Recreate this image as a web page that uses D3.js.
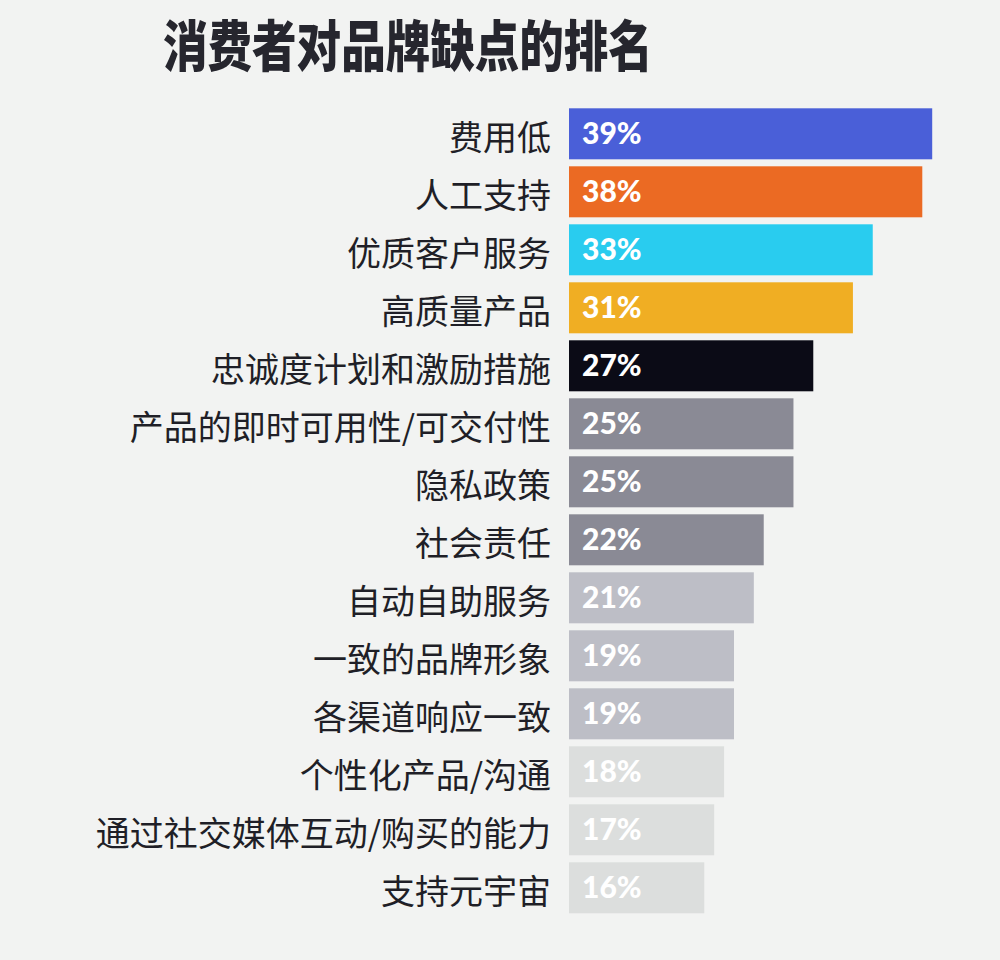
<!DOCTYPE html>
<html><head><meta charset="utf-8">
<script src="https://cdn.jsdelivr.net/npm/d3@7"></script>
<style>
html,body{margin:0;padding:0;background:#f2f3f2;}
svg{display:block;}
</style></head>
<body>
<div id="chart"></div>
<script>
const title = "消费者对品牌缺点的排名";
const categories = ["费用低","人工支持","优质客户服务","高质量产品","忠诚度计划和激励措施","产品的即时可用性/可交付性","隐私政策","社会责任","自动自助服务","一致的品牌形象","各渠道响应一致","个性化产品/沟通","通过社交媒体互动/购买的能力","支持元宇宙"];
const values = [39,38,33,31,27,25,25,22,21,19,19,18,17,16];
const barColors = ["#4a5fd8","#eb6a23","#29ccef","#f0ae23","#0b0b16","#8a8a95","#8a8a95","#8a8a95","#bdbec6","#bdbec6","#bdbec6","#dcdedd","#dcdedd","#dcdedd"];

const W = 1000, H = 960;
const svg = d3.select("#chart").append("svg").attr("width", W).attr("height", H);
svg.append("rect").attr("width", W).attr("height", H).attr("fill", "#f2f3f2");

const x0 = 569;
const x = d3.scaleLinear().domain([2.35, 40]).range([x0, x0 + 9.91 * (40 - 2.35)]);
const y = d3.scaleBand().domain(categories).range([108.3, 913.3]).paddingInner(7/58).paddingOuter(0);

// title
svg.append("text")
  .attr("transform", "translate(163,66) scale(0.81,1)")
  .attr("font-family", "'Noto Sans CJK SC', sans-serif")
  .attr("font-weight", 900)
  .attr("font-size", 55)
  .attr("fill", "#26262e")
  .text(title);

const rows = svg.append("g").selectAll("g").data(categories).join("g");

rows.append("rect")
  .attr("x", x0)
  .attr("y", d => y(d))
  .attr("width", (d, i) => x(values[i]) - x0)
  .attr("height", y.bandwidth())
  .attr("fill", (d, i) => barColors[i]);

rows.append("text")
  .attr("x", 551)
  .attr("y", d => y(d) + y.bandwidth() / 2 + 16.5)
  .attr("text-anchor", "end")
  .attr("font-family", "'Noto Sans CJK SC', sans-serif")
  .attr("font-size", 34)
  .attr("fill", "#1f1f27")
  .text(d => d);

rows.append("text")
  .attr("x", 582)
  .attr("y", d => y(d) + y.bandwidth() / 2 + 10.5)
  .attr("font-family", "Lato, 'Open Sans', sans-serif")
  .attr("font-weight", 900)
  .attr("font-size", 30)
  .attr("fill", "#ffffff")
  .text((d, i) => values[i] + "%");
</script>
</body></html>
